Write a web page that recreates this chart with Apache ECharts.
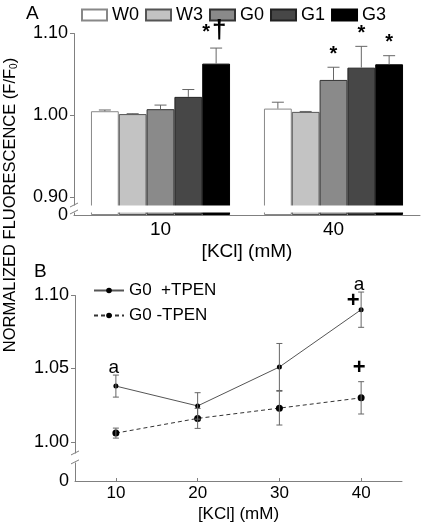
<!DOCTYPE html>
<html><head><meta charset="utf-8">
<script src="https://cdn.jsdelivr.net/npm/echarts@6/dist/echarts.min.js"></script>
<style>html,body{margin:0;padding:0;background:#fff}#c{width:425px;height:524px}</style>
</head><body><div id="c"></div>
<script>
// ---------- Panel A data ----------
const kclCategories = ['10', '40'];
const barNames = ['W0', 'W3', 'G0', 'G1', 'G3'];
const valW0 = [1.0045, 1.0077];
const valW3 = [1.0010, 1.0037];
const valG0 = [1.0070, 1.0427];
const valG1 = [1.0220, 1.0577];
const valG3 = [1.0626, 1.0618];
const errW0 = [0.0015, 0.0078];
const errW3 = [0.0005, 0.0005];
const errG0 = [0.0050, 0.0155];
const errG1 = [0.0090, 0.0260];
const errG3 = [0.0190, 0.0105];
const marksA = [['', '', '', '', '*†'], ['', '', '*', '*', '*']];
const ticksA = [0.90, 1.00, 1.10];

// ---------- Panel B data ----------
const kclLevels = [10, 20, 30, 40];
const plusTPEN = [1.038, 1.0245, 1.051, 1.090];
const plusErr = [0.0075, 0.009, 0.016, 0.012];
const minusTPEN = [1.006, 1.016, 1.023, 1.030];
const minusErr = [0.0034, 0.0068, 0.0115, 0.011];
const marksPlusAbove = ['a', '', '', 'a'];
const marksPlusSide = ['', '', '', '+'];
const marksMinusAbove = ['', '', '', '+'];
const ticksBY = [1.00, 1.05, 1.10];
const ticksBX = [10, 20, 30, 40];

const FONT = 'Liberation Sans, Arial, sans-serif';
const barVals = [valW0, valW3, valG0, valG1, valG3];
const barErrs = [errW0, errW3, errG0, errG1, errG3];
const barColors = ['#ffffff', '#c3c3c3', '#8a8a8a', '#474747', '#000000'];
const barBorders = ['#888888', '#555555', '#333333', '#222222', '#000000'];
const CAT_GAP = 0.196;

const chart = echarts.init(document.getElementById('c'));

const barSeries = barNames.map((n, i) => ({
  name: n, type: 'bar', xAxisIndex: 0, yAxisIndex: 0,
  barGap: '0%', barCategoryGap: (CAT_GAP * 100) + '%',
  itemStyle: { color: barColors[i], borderColor: barBorders[i], borderWidth: 1 },
  data: barVals[i]
}));

const errDataA = [];
barNames.forEach((n, s) => kclCategories.forEach((c, k) => {
  errDataA.push([k, s, barVals[s][k], barErrs[s][k], marksA[k][s]]);
}));

const errSeriesA = {
  type: 'custom', xAxisIndex: 0, yAxisIndex: 0, z: 5, silent: true,
  renderItem(params, api) {
    const k = api.value(0), s = api.value(1), v = api.value(2), e = api.value(3);
    const mark = errDataA[params.dataIndex][4];
    const band = api.size([1, 0])[0];
    const gw = band * (1 - CAT_GAP), bw = gw / 5;
    const c = api.coord([k, v]);
    const x = c[0] - gw / 2 + bw * (s + 0.5);
    const yT = api.coord([k, v + e])[1];
    const children = [
      { type: 'line', shape: { x1: x, y1: c[1], x2: x, y2: yT }, style: { stroke: '#666', lineWidth: 1 } },
      { type: 'line', shape: { x1: x - 6, y1: yT, x2: x + 6, y2: yT }, style: { stroke: '#666', lineWidth: 1 } }
    ];
    if (mark === '*†') {
      children.push({ type: 'text', x: x - 10, y: yT - 6, style: { text: '*', font: 'bold 20px ' + FONT, fill: '#000', align: 'center', verticalAlign: 'bottom' } });
      children.push({ type: 'text', x: x + 3, y: yT - 4, style: { text: '†', font: 'bold 26px ' + FONT, fill: '#000', align: 'center', verticalAlign: 'bottom' } });
    } else if (mark) {
      children.push({ type: 'text', x: x, y: yT - 3, style: { text: mark, font: 'bold 20px ' + FONT, fill: '#000', align: 'center', verticalAlign: 'bottom' } });
    }
    return { type: 'group', children };
  },
  data: errDataA.map(d => d.slice(0, 4))
};

function lineErrSeries(vals, errs, above, side) {
  return {
    type: 'custom', xAxisIndex: 1, yAxisIndex: 1, z: 5, silent: true,
    renderItem(params, api) {
      const i = params.dataIndex;
      const x = api.value(0), v = api.value(1), e = api.value(2);
      const p = api.coord([x, v]);
      const yT = api.coord([x, v + e])[1], yB = api.coord([x, v - e])[1];
      const ch = [
        { type: 'line', shape: { x1: p[0], y1: yT, x2: p[0], y2: yB }, style: { stroke: '#666', lineWidth: 1 } },
        { type: 'line', shape: { x1: p[0] - 3, y1: yT, x2: p[0] + 3, y2: yT }, style: { stroke: '#666', lineWidth: 1 } },
        { type: 'line', shape: { x1: p[0] - 3, y1: yB, x2: p[0] + 3, y2: yB }, style: { stroke: '#666', lineWidth: 1 } }
      ];
      if (above[i] === 'a') ch.push({ type: 'text', x: p[0] - 2, y: yT + 2, style: { text: 'a', font: '19px ' + FONT, fill: '#000', align: 'center', verticalAlign: 'bottom' } });
      if (above[i] === '+') ch.push({ type: 'text', x: p[0] - 2, y: yT - 3, style: { text: '+', font: 'bold 22px ' + FONT, fill: '#000', align: 'center', verticalAlign: 'bottom' } });
      if (side[i] === '+') ch.push({ type: 'text', x: p[0] - 8, y: p[1] + 2, style: { text: '+', font: 'bold 22px ' + FONT, fill: '#000', align: 'center', verticalAlign: 'bottom' } });
      return { type: 'group', children: ch };
    },
    data: kclLevels.map((x, i) => [x, vals[i], errs[i]])
  };
}

const axisGray = '#808080';
const breakAreaStyle = { itemStyle: { color: '#fff', borderColor: '#fff', borderWidth: 0, opacity: 1 }, zigzagAmplitude: 0 };

const option = {
  animation: false,
  backgroundColor: '#fff',
  textStyle: { fontFamily: FONT },
  grid: [
    { left: 74, top: 33, width: 346, height: 182, outerBoundsMode: 'none', containLabel: false },
    { left: 75, top: 295, width: 327, height: 186, outerBoundsMode: 'none', containLabel: false }
  ],
  legend: [
    { data: barNames.map(n => ({ name: n, icon: 'rect' })), left: 81, top: 6, itemWidth: 25, itemHeight: 11, itemGap: 6, padding: 0,
      textStyle: { fontSize: 18, color: '#000', fontFamily: FONT } },
    { data: ['G0  +TPEN', 'G0 -TPEN'], orient: 'vertical', left: 93, top: 282, itemWidth: 30, itemHeight: 7, itemGap: 8, padding: 0,
      textStyle: { fontSize: 17, color: '#000', fontFamily: FONT } }
  ],
  xAxis: [
    { gridIndex: 0, type: 'category', data: kclCategories,
      axisLine: { lineStyle: { color: axisGray } }, axisTick: { show: false },
      axisLabel: { fontSize: 19, color: '#000', margin: 5, fontFamily: FONT },
      name: '[KCl] (mM)', nameLocation: 'middle', nameGap: 27,
      nameTextStyle: { fontSize: 19, color: '#000', fontFamily: FONT } },
    { gridIndex: 1, type: 'value', min: 5, max: 45,
      axisLine: { lineStyle: { color: axisGray } },
      axisTick: { inside: true, length: 3, customValues: ticksBX, lineStyle: { color: axisGray } },
      axisLabel: { customValues: ticksBX, fontSize: 17, color: '#000', margin: 4, fontFamily: FONT },
      splitLine: { show: false },
      name: '[KCl] (mM)', nameLocation: 'middle', nameGap: 25,
      nameTextStyle: { fontSize: 17, color: '#000', fontFamily: FONT } }
  ],
  yAxis: [
    { gridIndex: 0, type: 'value', min: 0, max: 1.10,
      breaks: [{ start: 0.0037, end: 0.89, gap: 0.0085 }],
      breakArea: breakAreaStyle,
      breakLabelLayout: { moveOverlap: false },
      axisLine: { show: true, lineStyle: { color: axisGray } },
      axisTick: { show: true, length: 4, customValues: ticksA, lineStyle: { color: axisGray } },
      axisLabel: { customValues: [0].concat(ticksA), formatter: v => v === 0 ? '0' : v.toFixed(2), fontSize: 18, color: '#000', margin: 6, fontFamily: FONT, hideOverlap: false },
      splitLine: { show: false } },
    { gridIndex: 1, type: 'value', min: 0, max: 1.10,
      breaks: [{ start: 0.013, end: 0.9925, gap: 0.0061 }],
      breakArea: breakAreaStyle,
      axisLine: { show: true, lineStyle: { color: axisGray } },
      axisTick: { show: true, length: 4, customValues: ticksBY, lineStyle: { color: axisGray } },
      axisLabel: { customValues: [0].concat(ticksBY), formatter: v => v === 0 ? '0' : v.toFixed(2), fontSize: 18, color: '#000', margin: 6, fontFamily: FONT },
      splitLine: { show: false } }
  ],
  series: barSeries.concat([
    errSeriesA,
    { name: 'G0  +TPEN', type: 'line', xAxisIndex: 1, yAxisIndex: 1, symbol: 'circle', symbolSize: 5,
      itemStyle: { color: '#000' }, lineStyle: { color: '#555', width: 1 },
      data: kclLevels.map((x, i) => [x, plusTPEN[i]]) },
    { name: 'G0 -TPEN', type: 'line', xAxisIndex: 1, yAxisIndex: 1, symbol: 'circle', symbolSize: 7,
      itemStyle: { color: '#000' }, lineStyle: { color: '#333', width: 1, type: [4, 3] },
      data: kclLevels.map((x, i) => [x, minusTPEN[i]]) },
    lineErrSeries(plusTPEN, plusErr, marksPlusAbove, marksPlusSide),
    lineErrSeries(minusTPEN, minusErr, marksMinusAbove, ['', '', '', ''])
  ])
};
chart.setOption(option);

// decorations: panel letters, shared y title, axis break slashes
function slashes(yAxisIndex, lo, hi, x) {
  const yl = chart.convertToPixel({ yAxisIndex }, lo);
  const yh = chart.convertToPixel({ yAxisIndex }, hi);
  return [yl, yh].map(y => ({ type: 'line', shape: { x1: x - 4, y1: y + 2, x2: x + 4, y2: y - 2 }, style: { stroke: axisGray, lineWidth: 1 }, z: 100 }));
}
const gA = slashes(0, 0.0037, 0.89, 74);
const gB = slashes(1, 0.013, 0.9925, 75);
chart.setOption({
  graphic: [
    { type: 'text', left: 26, top: 4, style: { text: 'A', font: '19px ' + FONT, fill: '#000' } },
    { type: 'text', left: 34, top: 262, style: { text: 'B', font: '19px ' + FONT, fill: '#000' } },
    { type: 'text', x: 10, y: 205, rotation: Math.PI / 2,
      style: { text: 'NORMALIZED FLUORESCENCE (F/F{s|0})', font: '16.5px ' + FONT, fill: '#000', align: 'center', verticalAlign: 'middle',
        rich: { s: { fontSize: 10, fontFamily: FONT, padding: [8, 0, 0, 0] } } } }
  ].concat(gA, gB)
});
</script>
</body></html>
